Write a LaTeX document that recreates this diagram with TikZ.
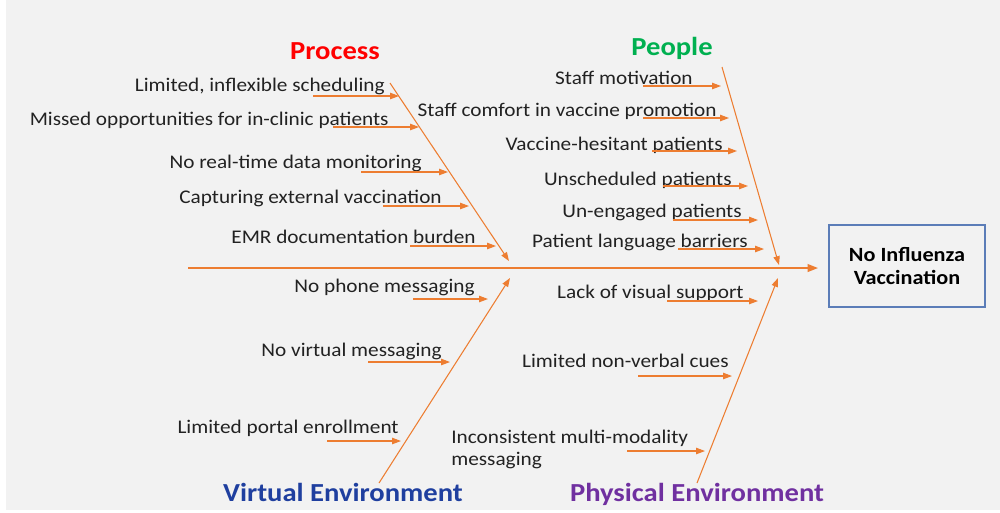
\documentclass[tikz,border=0pt]{standalone}
\usepackage{fontspec}
\setmainfont{Carlito}[FakeStretch=1.1]
\usetikzlibrary{arrows.meta}
\definecolor{bonecol}{HTML}{ED7D31}
\definecolor{boxcol}{HTML}{5B7DB8}
\definecolor{bgcol}{HTML}{F2F2F2}
\definecolor{txtcol}{HTML}{222222}
\definecolor{proccol}{HTML}{FF0000}
\definecolor{peoplecol}{HTML}{00B050}
\definecolor{virtcol}{HTML}{1F3F9F}
\definecolor{physcol}{HTML}{7030A0}
\tikzset{
  twig/.style={draw=bonecol, line width=0.6pt, -{Triangle[length=5pt,width=3.6pt]}},
  bone/.style={draw=bonecol, line width=0.6pt, -{Triangle[length=5pt,width=3.6pt]}},
  spine/.style={draw=bonecol, line width=1.3pt, -{Triangle[length=6pt,width=4.2pt]}},
  cause/.style={font=\fontsize{11}{12.5}\selectfont, text=txtcol, inner sep=0pt, anchor=base east},
  head/.style={font=\fontsize{14.8}{17}\selectfont\bfseries, inner sep=0pt, anchor=base},
  effect/.style={draw=boxcol, line width=0.9pt, fill=bgcol, minimum width=3.12cm, minimum height=1.64cm,
    align=center, text=black, font=\fontsize{11.5}{13.6}\selectfont\bfseries}
}
\begin{document}
\begin{tikzpicture}[x=0.02cm, y=-0.02cm]
      \useasboundingbox (0,0) rectangle (1000,512);
      \fill[bgcol] (6,0) rectangle (1000,510);
      % effect and spine
      \node[effect] (effect) at (907,266) {No Influenza\\Vaccination};
      \coordinate (tail) at (188,268);
      \draw[spine, shorten >=0.2cm] (tail) -- (tail -| effect.west);
      % category headings
      \node[head, text=proccol] (process) at (335,59) {Process};
      \node[head, text=peoplecol] (people) at (672,55) {People};
      \node[head, text=virtcol] (virtual) at (343,501) {Virtual Environment};
      \node[head, text=physcol] (physical) at (697,501) {Physical Environment};
      % bones
      \coordinate (pr0) at (390,83);  \coordinate (pr1) at (509,261);
      \coordinate (pe0) at (722,67);  \coordinate (pe1) at (779,265);
      \coordinate (vi0) at (379,483); \coordinate (vi1) at (510,278);
      \coordinate (ph0) at (697,483); \coordinate (ph1) at (778,278);
      \begin{scope}
        \draw[bone] (pr0) to (pr1);
        \draw[bone] (pe0) to (pe1);
        \draw[bone] (vi0) to (vi1);
        \draw[bone] (ph0) to (ph1);
      \end{scope}
      % process causes
      \node[cause] (pr-a) at (385,91) {Limited, inflexible scheduling};
      \node[cause] (pr-b) at (389,125) {Missed opportunities for in-clinic patients};
      \node[cause] (pr-c) at (422,168) {No real-time data monitoring};
      \node[cause] (pr-d) at (442,203) {Capturing external vaccination};
      \node[cause] (pr-e) at (476,243) {EMR documentation burden};
      \coordinate (pr-a0) at (313,96);  \coordinate (pr-a1) at (399,96);
      \coordinate (pr-b0) at (333,127); \coordinate (pr-b1) at (419,127);
      \coordinate (pr-c0) at (361,172); \coordinate (pr-c1) at (448,172);
      \coordinate (pr-d0) at (383,206); \coordinate (pr-d1) at (469,206);
      \coordinate (pr-e0) at (410,246); \coordinate (pr-e1) at (496,246);
      % people causes
      \node[cause] (pe-a) at (693,84) {Staff motivation};
      \node[cause] (pe-b) at (717,116) {Staff comfort in vaccine promotion};
      \node[cause] (pe-c) at (723,150) {Vaccine-hesitant patients};
      \node[cause] (pe-d) at (732,185) {Unscheduled patients};
      \node[cause] (pe-e) at (742,217) {Un-engaged patients};
      \node[cause] (pe-f) at (748,247) {Patient language barriers};
      \coordinate (pe-a0) at (643,86);  \coordinate (pe-a1) at (721,86);
      \coordinate (pe-b0) at (643,118); \coordinate (pe-b1) at (729,118);
      \coordinate (pe-c0) at (652,151); \coordinate (pe-c1) at (737,151);
      \coordinate (pe-d0) at (663,186); \coordinate (pe-d1) at (748,186);
      \coordinate (pe-e0) at (673,220); \coordinate (pe-e1) at (758,220);
      \coordinate (pe-f0) at (678,249); \coordinate (pe-f1) at (764,249);
      % virtual environment causes
      \node[cause] (vi-a) at (475,292) {No phone messaging};
      \node[cause] (vi-b) at (442,356) {No virtual messaging};
      \node[cause] (vi-c) at (399,433) {Limited portal enrollment};
      \coordinate (vi-a0) at (413,299); \coordinate (vi-a1) at (488,299);
      \coordinate (vi-b0) at (368,362); \coordinate (vi-b1) at (450,362);
      \coordinate (vi-c0) at (327,441); \coordinate (vi-c1) at (401,441);
      % physical environment causes
      \node[cause] (ph-a) at (744,298) {Lack of visual support};
      \node[cause] (ph-b) at (729,367) {Limited non-verbal cues};
      \node[cause, anchor=west, align=left] (ph-c) at (451,449) {Inconsistent multi-modality\\messaging};
      \coordinate (ph-a0) at (667,301); \coordinate (ph-a1) at (758,301);
      \coordinate (ph-b0) at (638,376); \coordinate (ph-b1) at (732,376);
      \coordinate (ph-c0) at (627,451); \coordinate (ph-c1) at (705,451);
      \begin{scope}
        \draw[twig] (pr-a0) to (pr-a1);
        \draw[twig] (pr-b0) to (pr-b1);
        \draw[twig] (pr-c0) to (pr-c1);
        \draw[twig] (pr-d0) to (pr-d1);
        \draw[twig] (pr-e0) to (pr-e1);
        \draw[twig] (pe-a0) to (pe-a1);
        \draw[twig] (pe-b0) to (pe-b1);
        \draw[twig] (pe-c0) to (pe-c1);
        \draw[twig] (pe-d0) to (pe-d1);
        \draw[twig] (pe-e0) to (pe-e1);
        \draw[twig] (pe-f0) to (pe-f1);
        \draw[twig] (vi-a0) to (vi-a1);
        \draw[twig] (vi-b0) to (vi-b1);
        \draw[twig] (vi-c0) to (vi-c1);
        \draw[twig] (ph-a0) to (ph-a1);
        \draw[twig] (ph-b0) to (ph-b1);
        \draw[twig] (ph-c0) to (ph-c1);
      \end{scope}
    \end{tikzpicture}
\end{document}
